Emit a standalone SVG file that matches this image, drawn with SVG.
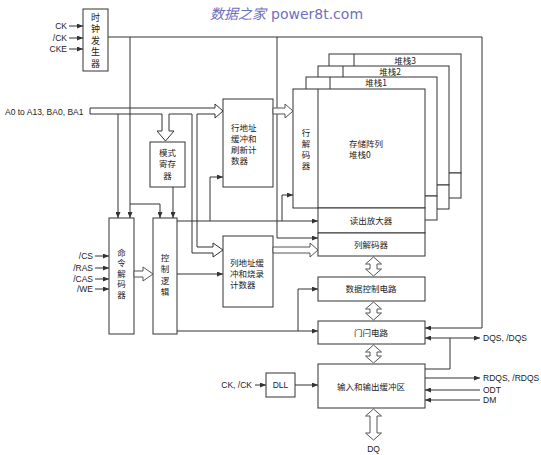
<svg xmlns="http://www.w3.org/2000/svg" width="541" height="455" viewBox="0 0 541 455">
<style>
.b{fill:#fff;stroke:#333;stroke-width:1}
.l{fill:none;stroke:#333;stroke-width:1}
.h{fill:#fff;stroke:#555;stroke-width:1}
.t{font-family:"Liberation Sans","Noto Sans CJK SC",sans-serif;font-size:8.5px;fill:#222}
.c{font-family:"Noto Sans CJK SC","Liberation Sans",sans-serif;font-size:8.5px;fill:#222}
.v{font-family:"Noto Sans CJK SC","Liberation Sans",sans-serif;font-size:8.5px;fill:#222;text-anchor:middle}
.m{text-anchor:middle}
.r{text-anchor:end}
</style>
<defs>
<marker id="a" markerUnits="userSpaceOnUse" markerWidth="6" markerHeight="5" refX="6" refY="2.5" orient="auto"><path d="M0,0 L6,2.5 L0,5 Z" fill="#333"/></marker>
</defs>
<rect width="541" height="455" fill="#fff"/>
<g id="watermark">
<text x="210" y="19" font-family="Noto Sans CJK SC,sans-serif" font-size="14" font-style="italic" fill="#6f6fc0">数据之家</text>
<text x="271" y="19" font-family="DejaVu Sans,sans-serif" font-size="14" fill="#6f6fc0">power8t.com</text>
</g>
<g id="stack3">
<rect class="b" x="329" y="54" width="132" height="119"/>
<rect class="b" x="354" y="173" width="107" height="25"/>
<line class="l" x1="354" y1="54" x2="354" y2="173"/>
<text class="c m" x="405" y="64">堆栈3</text>
</g>
<g id="stack2">
<rect class="b" x="318" y="66" width="131" height="119"/>
<rect class="b" x="343" y="185" width="106" height="24"/>
<line class="l" x1="343" y1="66" x2="343" y2="185"/>
<text class="c m" x="390" y="75">堆栈2</text>
</g>
<g id="stack1">
<rect class="b" x="306" y="77" width="131" height="119"/>
<rect class="b" x="330" y="196" width="107" height="24"/>
<line class="l" x1="330" y1="77" x2="330" y2="196"/>
<text class="c m" x="376" y="86">堆栈1</text>
</g>
<g id="stack0">
<rect class="b" x="293" y="89" width="132" height="119"/>
<line class="l" x1="318" y1="89" x2="318" y2="208"/>
<text class="c" x="349" y="147">存储阵列</text>
<text class="c" x="349" y="158">堆栈0</text>
<g class="v"><text x="306" y="136">行</text><text x="306" y="147">解</text><text x="306" y="158">码</text><text x="306" y="169">器</text></g>
</g>
<g id="sense-amp"><rect class="b" x="318" y="208" width="107" height="25"/><text class="c m" x="371" y="224">读出放大器</text></g>
<g id="col-decoder"><rect class="b" x="318" y="233" width="107" height="23"/><text class="c m" x="371" y="248">列解码器</text></g>
<g id="data-control"><rect class="b" x="318" y="277" width="107" height="24"/><text class="c m" x="371" y="292">数据控制电路</text></g>
<g id="latch"><rect class="b" x="318" y="321" width="107" height="23"/><text class="c m" x="371" y="336">门闩电路</text></g>
<g id="io-buffer"><rect class="b" x="318" y="364" width="107" height="44"/><text class="c m" x="371" y="390">输入和输出缓冲区</text></g>
<g id="dll"><rect class="b" x="266" y="373" width="29" height="24"/><text class="t m" x="280.5" y="388">DLL</text></g>
<g id="clock-gen"><rect class="b" x="83" y="9" width="25" height="62"/>
<g class="v" style="font-size:9px"><text x="95.5" y="20.5">时</text><text x="95.5" y="32">钟</text><text x="95.5" y="43.5">发</text><text x="95.5" y="55">生</text><text x="95.5" y="66.5">器</text></g></g>
<g id="mode-reg"><rect class="b" x="150" y="142" width="35" height="45"/>
<g class="c m"><text x="167.5" y="156">模式</text><text x="167.5" y="167">寄存</text><text x="167.5" y="179">器</text></g></g>
<g id="row-addr"><rect class="b" x="223" y="99" width="50" height="88"/>
<g class="c"><text x="231" y="131">行地址</text><text x="231" y="142">缓冲和</text><text x="231" y="153">刷新计</text><text x="231" y="164">数器</text></g></g>
<g id="col-addr"><rect class="b" x="223" y="236" width="50" height="71"/>
<g class="c"><text x="230" y="266">列地址缓</text><text x="230" y="277">冲和烧录</text><text x="230" y="288">计数器</text></g></g>
<g id="cmd-decoder"><rect class="b" x="109" y="218" width="25" height="116"/>
<g class="v"><text x="121.5" y="255.5">命</text><text x="121.5" y="266">令</text><text x="121.5" y="276.5">解</text><text x="121.5" y="287">码</text><text x="121.5" y="297.5">器</text></g></g>
<g id="control-logic"><rect class="b" x="153" y="218" width="24" height="116"/>
<g class="v"><text x="165" y="260.5">控</text><text x="165" y="272">制</text><text x="165" y="283.5">逻</text><text x="165" y="294.5">辑</text></g></g>
<g id="connectors">
<path class="l" marker-end="url(#a)" d="M69,26 H83"/>
<path class="l" marker-end="url(#a)" d="M69,38 H83"/>
<path class="l" marker-end="url(#a)" d="M69,49 H83"/>
<path class="l" marker-end="url(#a)" d="M108,37 H482 V328 H425"/>
<path class="l" marker-end="url(#a)" d="M130,37 V218"/>
<path class="l" marker-end="url(#a)" d="M130,204 H160 V218"/>
<path class="l" marker-end="url(#a)" d="M277,37 V238 H318"/>
<path class="l" marker-end="url(#a)" d="M118,114 V218"/>
<path class="l" marker-end="url(#a)" d="M173,187 V218"/>
<path class="l" marker-end="url(#a)" d="M177,221 H318"/>
<path class="l" marker-end="url(#a)" d="M210,221 V177 H223"/>
<path class="l" marker-end="url(#a)" d="M282,221 V195 H293"/>
<path class="l" marker-end="url(#a)" d="M177,274 H223"/>
<path class="l" marker-end="url(#a)" d="M177,331 H318"/>
<path class="l" marker-end="url(#a)" d="M298,331 V289 H318"/>
<path class="l" marker-end="url(#a)" d="M95,256 H109"/>
<path class="l" marker-end="url(#a)" d="M95,268 H109"/>
<path class="l" marker-end="url(#a)" d="M95,279 H109"/>
<path class="l" marker-end="url(#a)" d="M95,289 H109"/>
<path class="l" marker-end="url(#a)" d="M255,385 H266"/>
<path class="l" marker-end="url(#a)" d="M295,385 H318"/>
<path class="l" marker-end="url(#a)" d="M450,338 H480"/>
<path class="l" marker-end="url(#a)" d="M450,338 H425"/>
<path class="l" d="M450,338 V369 H425"/>
<path class="l" marker-end="url(#a)" d="M425,378 H480"/>
<path class="l" marker-end="url(#a)" d="M480,390 H425"/>
<path class="l" marker-end="url(#a)" d="M480,400 H425"/>
<path class="l" d="M90,108 H215 V104 L223,111 L215,118 V114 H197 V247 H213 V243 L223,250 L213,257 V253 H192 V114 H169 V131 H174 L165.5,141 L157,131 H162 V114 H90 Z"/>
<path class="h" d="M273,108 H285 V104 L293,111 L285,118 V114 H273 Z"/>
<path class="h" d="M273,247 H310 V243 L318,250 L310,257 V253 H273 Z"/>
<path class="h" d="M134,271 H143 V267 L153,274 L143,281 V277 H134 Z"/>
<path class="h" d="M373.5,257 L381.5,264 H377 V269 H381.5 L373.5,276 L365.5,269 H370 V264 H365.5 Z"/>
<path class="h" d="M373.5,302 L381.5,309 H377 V313 H381.5 L373.5,320 L365.5,313 H370 V309 H365.5 Z"/>
<path class="h" d="M373.5,345 L381.5,352 H377 V356 H381.5 L373.5,363 L365.5,356 H370 V352 H365.5 Z"/>
<path class="h" d="M373.5,409 L381.5,416 H377 V433 H381.5 L373.5,440 L365.5,433 H370 V416 H365.5 Z"/>
</g>
<g id="labels" class="t">
<text class="r" x="67" y="29">CK</text>
<text class="r" x="67" y="41">/CK</text>
<text class="r" x="67" y="52">CKE</text>
<text x="5" y="115">A0 to A13, BA0, BA1</text>
<text class="r" x="93" y="259">/CS</text>
<text class="r" x="93" y="271">/RAS</text>
<text class="r" x="93" y="282">/CAS</text>
<text class="r" x="93" y="292">/WE</text>
<text class="r" x="252" y="388">CK, /CK</text>
<text x="483" y="341">DQS, /DQS</text>
<text x="483" y="381">RDQS, /RDQS</text>
<text x="483" y="393">ODT</text>
<text x="483" y="403">DM</text>
<text class="m" x="373.5" y="452">DQ</text>
</g>
</svg>
